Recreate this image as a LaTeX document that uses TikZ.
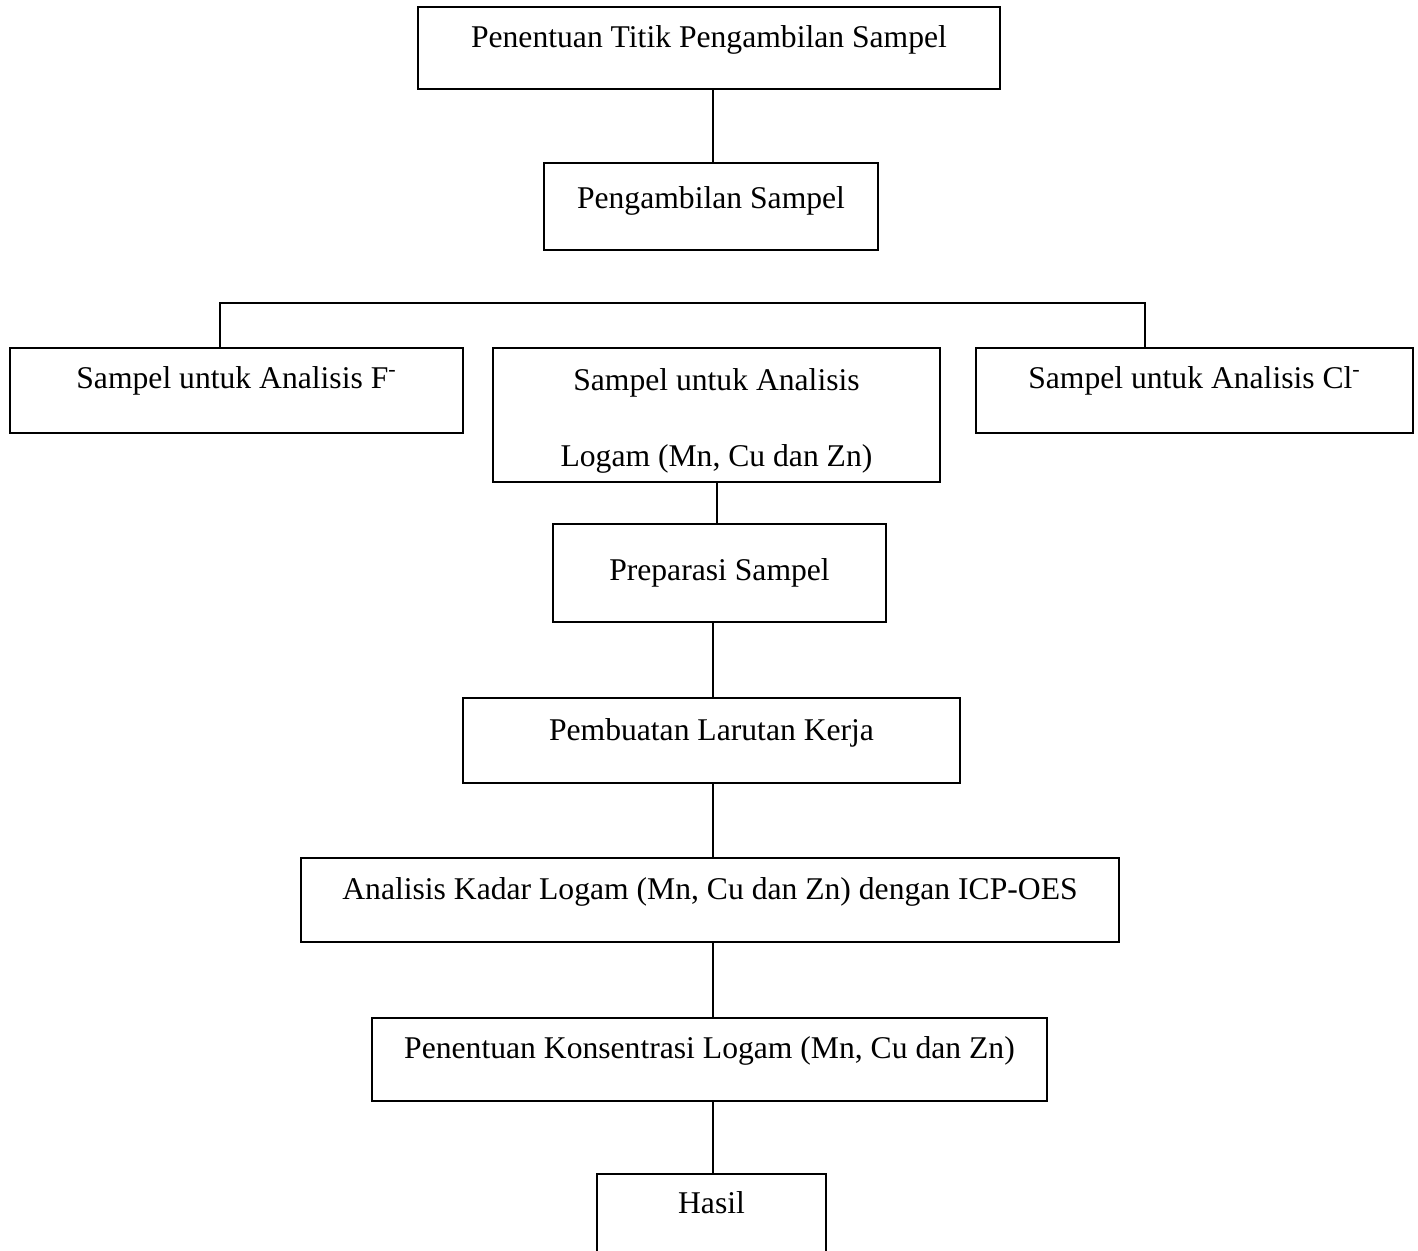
\documentclass[tikz,border=0pt]{standalone}
\usepackage{fontspec}
\setmainfont{Liberation Serif}
\usepackage{tikz}
\usetikzlibrary{positioning, calc}

\begin{document}
\begin{tikzpicture}[line width=1pt,
  stage/.style n args={3}{draw, inner sep=0pt, anchor=base, minimum width=#1,
                text height=#2, text depth=#3, font=\fontsize{18}{43.2}\selectfont},
]
\clip (0,0) rectangle (28.36,-25.02);
\coordinate (axis) at (14.26,0);
\coordinate (axisB) at (14.34,0);

% Sampling
\node[stage={11.64cm}{0.80cm}{0.84cm}] (titik) at (14.18,-0.94) {Penentuan Titik Pengambilan Sampel};
\node[stage={6.68cm}{0.90cm}{0.84cm}] (ambil) at (14.22,-4.16) {Pengambilan Sampel};

% Three sample groups
\node[stage={9.06cm}{0.80cm}{0.90cm}] (fluor) at (4.73,-7.76) {Sampel untuk Analisis F\textsuperscript{-}};
\node[draw, inner sep=0pt, minimum width=8.94cm, minimum height=2.68cm, align=center,
      font=\fontsize{18}{43.2}\selectfont] (logam) at (14.33,-8.30)
     {\rule{0pt}{19.2pt}Sampel untuk Analisis\\Logam (Mn, Cu dan Zn)};
\node[stage={8.74cm}{0.80cm}{0.90cm}] (klor) at (23.89,-7.76) {Sampel untuk Analisis Cl\textsuperscript{-}};

% Metal analysis steps
\node[stage={6.66cm}{1.12cm}{0.84cm}] (prep) at (14.39,-11.60) {Preparasi Sampel};
\node[stage={9.94cm}{0.84cm}{0.86cm}] (kerja) at (14.23,-14.80) {Pembuatan Larutan Kerja};
\node[stage={16.36cm}{0.82cm}{0.86cm}] (icp) at (14.20,-17.98) {Analisis Kadar Logam (Mn, Cu dan Zn) dengan ICP-OES};
\node[stage={13.50cm}{0.80cm}{0.86cm}] (konsen) at (14.19,-21.16) {Penentuan Konsentrasi Logam (Mn, Cu dan Zn)};
\node[stage={4.58cm}{0.78cm}{0.88cm}] (hasil) at (14.23,-24.26) {Hasil};

% Connectors
\draw (titik.south -| axis) -- (ambil.north -| axis);
\coordinate (brL) at (4.40,-6.06);
\coordinate (brR) at (22.90,-6.06);
\draw (brL |- fluor.north) -- (brL) -- (brR) -- (brR |- klor.north);
\draw (logam.south -| axisB) -- (prep.north -| axisB);
\draw (prep.south -| axis) -- (kerja.north -| axis);
\draw (kerja.south -| axis) -- (icp.north -| axis);
\draw (icp.south -| axis) -- (konsen.north -| axis);
\draw (konsen.south -| axis) -- (hasil.north -| axis);
\end{tikzpicture}
\end{document}
